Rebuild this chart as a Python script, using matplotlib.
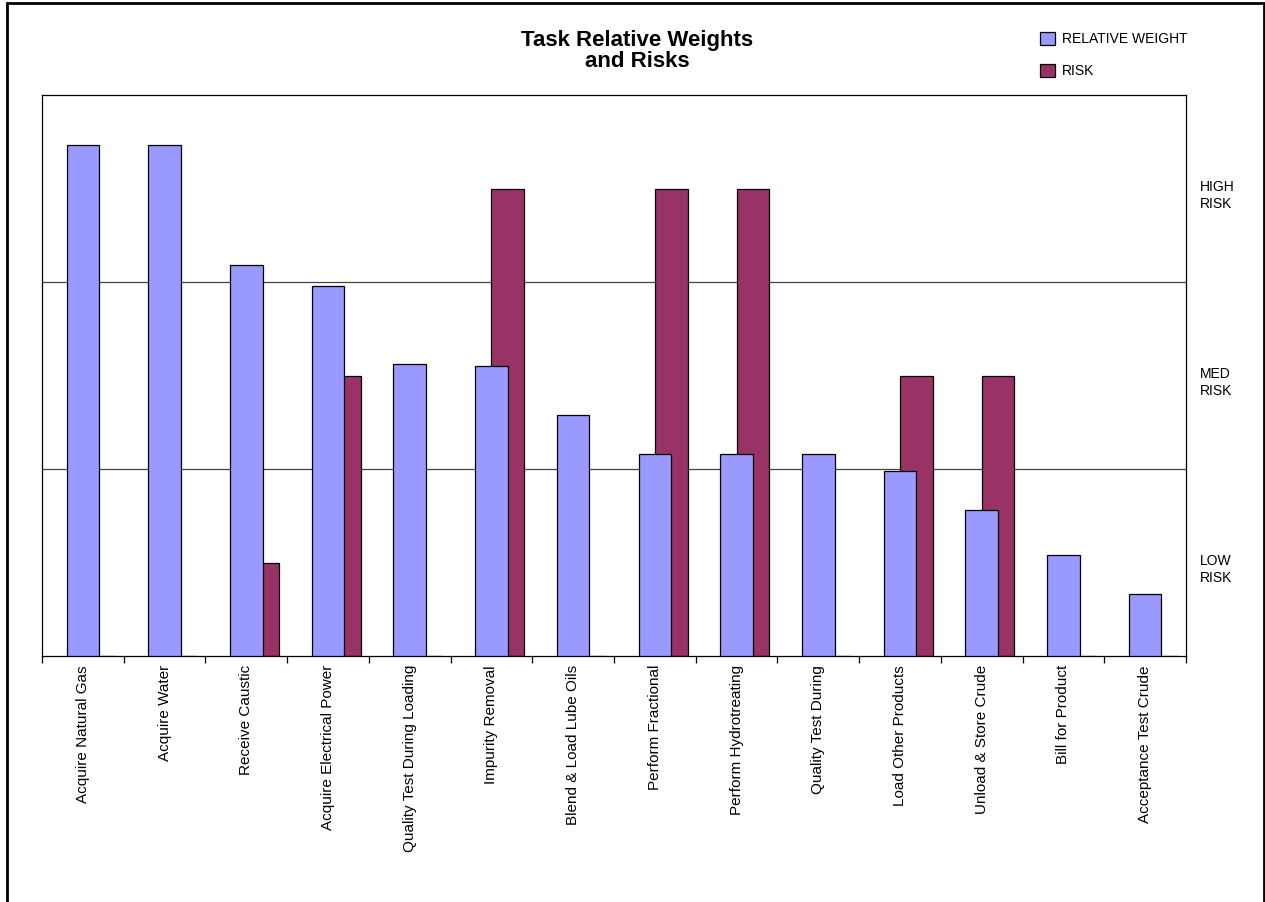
import numpy as np
import matplotlib
matplotlib.use("Agg")
import matplotlib.pyplot as plt
import matplotlib.transforms as mtransforms
from matplotlib.patches import Rectangle

plt.rcParams['font.family'] = ['Liberation Sans', 'DejaVu Sans']

tasks = ["Acquire Natural Gas", "Acquire Water", "Receive Caustic",
         "Acquire Electrical Power", "Quality Test During Loading",
         "Impurity Removal", "Blend & Load Lube Oils", "Perform Fractional",
         "Perform Hydrotreating", "Quality Test During", "Load Other Products",
         "Unload & Store Crude", "Bill for Product", "Acceptance Test Crude"]
rel_weight = [2.73, 2.73, 2.09, 1.98, 1.56, 1.55, 1.29, 1.08, 1.08, 1.08,
              0.99, 0.78, 0.54, 0.33]
# risk level on the same scale: 0.5 = low, 1.5 = med, 2.5 = high
risk = [0, 0, 0.5, 1.5, 0, 2.5, 0, 2.5, 2.5, 0, 1.5, 1.5, 0, 0]
risk_ticks = [0.5, 1.5, 2.5]
risk_labels = ["LOW\nRISK", "MED\nRISK", "HIGH\nRISK"]

blue = "#9999FF"
plum = "#993366"

fig = plt.figure(figsize=(12.65, 9.02), dpi=100)
ax = fig.add_axes([42/1265, 1 - 656/902, (1186-42)/1265, (656-95)/902])

x = np.arange(len(tasks))
w = 0.4
ax.bar(x + w/2, risk, w, color=plum, edgecolor="black", linewidth=0.9, zorder=2)
ax.bar(x, rel_weight, w, color=blue, edgecolor="black", linewidth=0.9, zorder=3)

for g in [1, 2]:
    ax.axhline(g, color="#444444", linewidth=0.9, zorder=1)

ax.set_xlim(-0.5, len(tasks) - 0.5)
ax.set_ylim(0, 3)
ax.set_yticks([])
ax.set_xticks(x)
ax.set_xticklabels(tasks, rotation=90, fontsize=11, va="top")
ax.tick_params(axis="x", which="major", length=0, pad=6.5)
ax.set_xticks(np.arange(-0.5, len(tasks)), minor=True)
ax.tick_params(axis="x", which="minor", length=5, width=0.9, direction="out")
for s in ax.spines.values():
    s.set_linewidth(0.9)

# risk level captions to the right of the plot
trans = mtransforms.blended_transform_factory(ax.transAxes, ax.transData)
trans = mtransforms.offset_copy(trans, fig=fig, x=14, y=-7, units="dots")
for yv, lab in zip(risk_ticks, risk_labels):
    ax.text(1.0, yv, lab, transform=trans, ha="left", va="center",
            fontsize=10, linespacing=1.2)

fig.text(637/1265, 1 - 51/902, "Task Relative Weights\nand Risks", ha="center",
         va="center", fontsize=16, fontweight="bold", linespacing=0.95)

handles = [Rectangle((0, 0), 1, 1, facecolor=blue, edgecolor="black", linewidth=0.9),
           Rectangle((0, 0), 1, 1, facecolor=plum, edgecolor="black", linewidth=0.9)]
fig.legend(handles, ["RELATIVE WEIGHT", "RISK"], loc="upper left",
           bbox_to_anchor=(1027/1265, 1 - 19/902), frameon=False, fontsize=10,
           handlelength=1.1, handleheight=1.1, handletextpad=0.5, labelspacing=1.3)

# outer frame of the chart sheet
fig.patches.append(Rectangle((7/1265, -0.05), (1264-7)/1265, 1.05 - 3/902,
                             transform=fig.transFigure, fill=False,
                             edgecolor="black", linewidth=2, zorder=0))

fig.savefig("out.png", dpi=100)
